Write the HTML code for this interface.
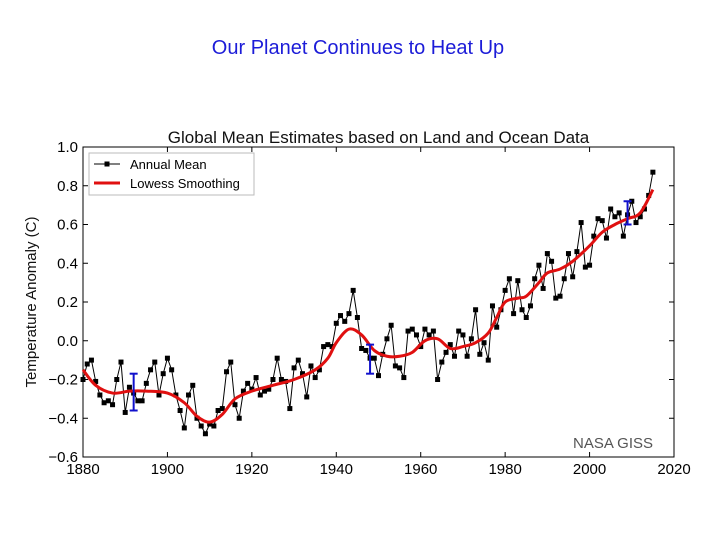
<!DOCTYPE html>
<html><head><meta charset="utf-8"><style>
body{margin:0;background:#fff;width:720px;height:540px;overflow:hidden;font-family:"Liberation Sans",sans-serif}
</style></head><body>
<div style="position:absolute;left:0;width:716px;top:37px;text-align:center;font-size:20px;color:#1c1cd8">Our Planet Continues to Heat Up</div>
<svg id="c" width="720" height="540" style="position:absolute;left:0;top:0" font-family="Liberation Sans, DejaVu Sans, sans-serif"></svg>
<script>
const years=[];for(let y=1880;y<=2015;y++)years.push(y);
const annual=[-0.20,-0.12,-0.10,-0.21,-0.28,-0.32,-0.31,-0.33,-0.20,-0.11,-0.37,-0.24,-0.27,-0.31,-0.31,-0.22,-0.15,-0.11,-0.28,-0.17,-0.09,-0.15,-0.28,-0.36,-0.45,-0.28,-0.23,-0.40,-0.44,-0.48,-0.43,-0.44,-0.36,-0.35,-0.16,-0.11,-0.33,-0.40,-0.26,-0.22,-0.25,-0.19,-0.28,-0.26,-0.25,-0.20,-0.09,-0.20,-0.21,-0.35,-0.14,-0.10,-0.17,-0.29,-0.13,-0.19,-0.15,-0.03,-0.02,-0.03,0.09,0.13,0.10,0.14,0.26,0.12,-0.04,-0.05,-0.09,-0.09,-0.18,-0.07,0.01,0.08,-0.13,-0.14,-0.19,0.05,0.06,0.03,-0.03,0.06,0.03,0.05,-0.20,-0.11,-0.06,-0.02,-0.08,0.05,0.03,-0.08,0.01,0.16,-0.07,-0.01,-0.10,0.18,0.07,0.16,0.26,0.32,0.14,0.31,0.16,0.12,0.18,0.32,0.39,0.27,0.45,0.41,0.22,0.23,0.32,0.45,0.33,0.46,0.61,0.38,0.39,0.54,0.63,0.62,0.53,0.68,0.64,0.66,0.54,0.65,0.72,0.61,0.64,0.68,0.75,0.87];
const smoothYears=[1880,1883,1887,1891,1895,1900,1904,1907,1910,1913,1916,1920,1925,1930,1935,1938,1940,1943,1946,1949,1952,1955,1958,1961,1964,1967,1970,1973,1976,1978,1980,1983,1985,1988,1990,1993,1996,2000,2003,2006,2009,2012,2015];
const smoothVals=[-0.15,-0.23,-0.27,-0.26,-0.26,-0.27,-0.32,-0.39,-0.42,-0.38,-0.30,-0.26,-0.23,-0.20,-0.15,-0.09,-0.01,0.06,0.03,-0.05,-0.08,-0.08,-0.06,0.00,0.01,-0.04,-0.03,-0.01,0.04,0.12,0.20,0.22,0.23,0.30,0.35,0.37,0.41,0.49,0.56,0.60,0.63,0.66,0.78];
const errYears=[1892,1948,2009];
const errLo=[-0.36,-0.17,0.60];
const errHi=[-0.17,-0.02,0.72];
const xTicks=[1880,1900,1920,1940,1960,1980,2000,2020];
const yTicks=[-0.6,-0.4,-0.2,0.0,0.2,0.4,0.6,0.8,1.0];
const yTickLabels=["\u22120.6","\u22120.4","\u22120.2","0.0","0.2","0.4","0.6","0.8","1.0"];
const L=83,R=674,T=147,B=457;
const X=v=>L+(v-1880)/140*(R-L);
const Y=v=>B-(v+0.6)/1.6*(B-T);
const svg=document.getElementById('c');const NS='http://www.w3.org/2000/svg';
function mk(t,a,p){const e=document.createElementNS(NS,t);for(const k in a)e.setAttribute(k,a[k]);(p||svg).appendChild(e);return e;}
let e;
e=mk('rect',{x:L,y:T,width:R-L,height:B-T,fill:'none',stroke:'#000','stroke-width':1});


e=mk('text',{x:(L+R)/2,y:143,'text-anchor':'middle','font-size':17,fill:'#111'});e.textContent='Global Mean Estimates based on Land and Ocean Data';


e=mk('text',{x:0,y:0,'text-anchor':'middle','font-size':15,fill:'#111',transform:'translate(36,302) rotate(-90)'});e.textContent='Temperature Anomaly (C)';


xTicks.forEach(t=>{const x=X(t);
e=mk('line',{x1:x,x2:x,y1:B,y2:B-5,stroke:'#000'});


mk('line',{x1:x,x2:x,y1:T,y2:T+5,stroke:'#000'});
e=mk('text',{x:x,y:B+17,'text-anchor':'middle','font-size':15,fill:'#000'});e.textContent=t;

});
yTicks.forEach((t,i)=>{const y=Y(t);
e=mk('line',{x1:L,x2:L+5,y1:y,y2:y,stroke:'#000'});


mk('line',{x1:R,x2:R-5,y1:y,y2:y,stroke:'#000'});
e=mk('text',{x:L-5,y:y+5,'text-anchor':'end','font-size':15,fill:'#000'});e.textContent=yTickLabels[i];

});
e=mk('polyline',{points:years.map((y,i)=>X(y)+','+Y(annual[i])).join(' '),fill:'none',stroke:'#000','stroke-width':1});


years.forEach((y,i)=>{e=mk('rect',{x:X(y)-2.5,y:Y(annual[i])-2.5,width:5,height:5,fill:'#000'});

});
let d='';const px=smoothYears.map(X),py=smoothVals.map(Y);
d='M'+px[0]+','+py[0];
for(let i=0;i<px.length-1;i++){const p0=i>0?i-1:i,p3=i+2<px.length?i+2:i+1;
d+=' C'+(px[i]+(px[i+1]-px[p0])/6)+','+(py[i]+(py[i+1]-py[p0])/6)+' '+(px[i+1]-(px[p3]-px[i])/6)+','+(py[i+1]-(py[p3]-py[i])/6)+' '+px[i+1]+','+py[i+1];}
e=mk('path',{d:d,fill:'none',stroke:'#e01010','stroke-width':3});


errYears.forEach((y,i)=>{const g=mk('g',{stroke:'#1010cc','stroke-width':2});


const x=X(y);mk('line',{x1:x,x2:x,y1:Y(errLo[i]),y2:Y(errHi[i])},g);
mk('line',{x1:x-4,x2:x+4,y1:Y(errLo[i]),y2:Y(errLo[i])},g);
mk('line',{x1:x-4,x2:x+4,y1:Y(errHi[i]),y2:Y(errHi[i])},g);});
const lg=mk('g',{});


mk('rect',{x:89,y:153,width:165,height:42,fill:'#fff',stroke:'#bbb'},lg);
mk('line',{x1:94,x2:120,y1:164,y2:164,stroke:'#000'},lg);
mk('rect',{x:104.5,y:161.5,width:5,height:5,fill:'#000'},lg);
e=mk('text',{x:130,y:169,'font-size':13,fill:'#000'},lg);e.textContent='Annual Mean';


mk('line',{x1:94,x2:120,y1:183,y2:183,stroke:'#e01010','stroke-width':3},lg);
e=mk('text',{x:130,y:188,'font-size':13,fill:'#000'},lg);e.textContent='Lowess Smoothing';


e=mk('text',{x:573,y:448,'font-size':15,fill:'#555'});e.textContent='NASA GISS';


</script>
</body></html>
